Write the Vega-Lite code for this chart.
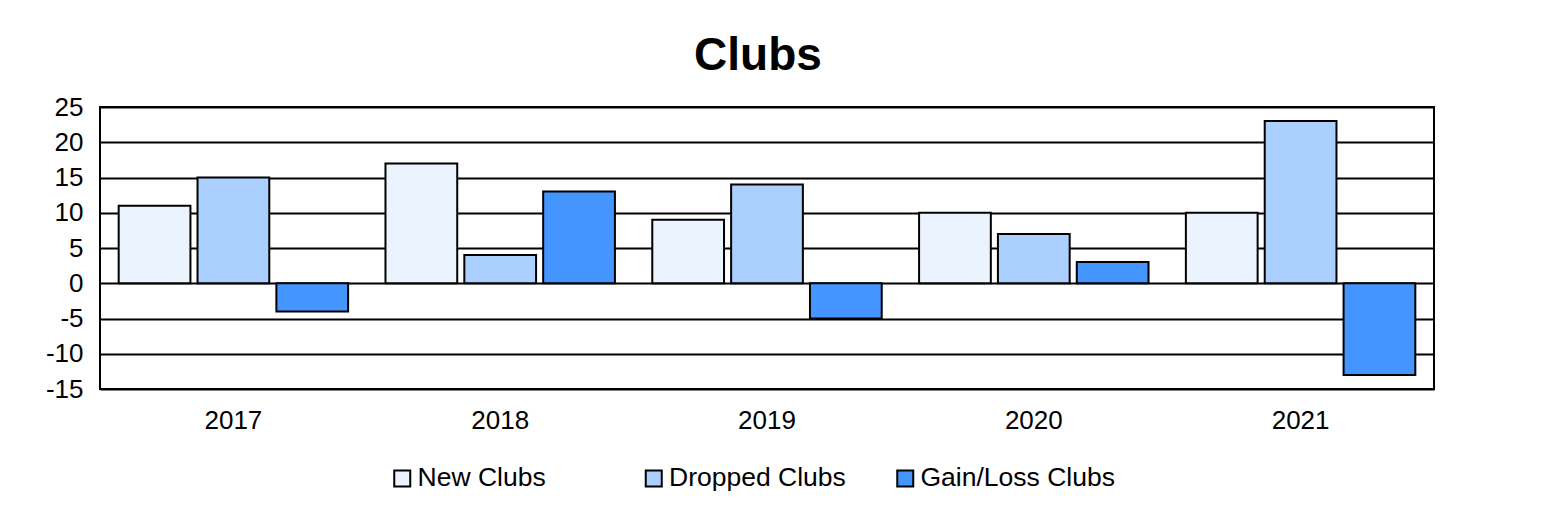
{
  "$schema": "https://vega.github.io/schema/vega-lite/v6.json",
  "autosize": "none",
  "width": 1334,
  "height": 282,
  "padding": {"left": 100, "top": 107, "right": 117, "bottom": 140},
  "background": "white",
  "title": {
    "text": "Clubs",
    "font": "Liberation Sans",
    "fontSize": 46,
    "fontWeight": "bold",
    "color": "black",
    "anchor": "middle",
    "baseline": "alphabetic",
    "offset": 37,
    "dx": -9,
    "dy": 59
  },
  "data": {
    "values": [
      {"year": "2017", "series": "New Clubs", "value": 11},
      {"year": "2017", "series": "Dropped Clubs", "value": 15},
      {"year": "2017", "series": "Gain/Loss Clubs", "value": -4},
      {"year": "2018", "series": "New Clubs", "value": 17},
      {"year": "2018", "series": "Dropped Clubs", "value": 4},
      {"year": "2018", "series": "Gain/Loss Clubs", "value": 13},
      {"year": "2019", "series": "New Clubs", "value": 9},
      {"year": "2019", "series": "Dropped Clubs", "value": 14},
      {"year": "2019", "series": "Gain/Loss Clubs", "value": -5},
      {"year": "2020", "series": "New Clubs", "value": 10},
      {"year": "2020", "series": "Dropped Clubs", "value": 7},
      {"year": "2020", "series": "Gain/Loss Clubs", "value": 3},
      {"year": "2021", "series": "New Clubs", "value": 10},
      {"year": "2021", "series": "Dropped Clubs", "value": 23},
      {"year": "2021", "series": "Gain/Loss Clubs", "value": -13}
    ]
  },
  "mark": {"type": "bar", "stroke": "black", "strokeWidth": 2},
  "encoding": {
    "x": {
      "field": "year",
      "type": "nominal",
      "scale": {"paddingInner": 0.14, "paddingOuter": 0.07},
      "axis": {
        "title": null,
        "labelAngle": 0,
        "labelFont": "Liberation Sans",
        "labelFontSize": 26,
        "labelColor": "black",
        "labelPadding": 18,
        "ticks": false,
        "domain": false,
        "grid": false
      }
    },
    "xOffset": {
      "field": "series",
      "type": "nominal",
      "sort": ["New Clubs", "Dropped Clubs", "Gain/Loss Clubs"],
      "scale": {"paddingInner": 0.09, "paddingOuter": 0}
    },
    "y": {
      "field": "value",
      "type": "quantitative",
      "scale": {"domain": [-15, 25], "nice": false, "zero": false},
      "axis": {
        "title": null,
        "values": [-15, -10, -5, 0, 5, 10, 15, 20, 25],
        "labelExpr": "'' + datum.value",
        "labelFont": "Liberation Sans",
        "labelFontSize": 26,
        "labelColor": "black",
        "labelPadding": 17,
        "ticks": false,
        "domain": false,
        "grid": true,
        "gridColor": "black",
        "gridWidth": 2,
        "gridOpacity": 1
      }
    },
    "color": {
      "field": "series",
      "type": "nominal",
      "sort": ["New Clubs", "Dropped Clubs", "Gain/Loss Clubs"],
      "scale": {
        "domain": ["New Clubs", "Dropped Clubs", "Gain/Loss Clubs"],
        "range": ["#EBF3FF", "#ABCFFF", "#4595FF"]
      },
      "legend": {
        "title": null,
        "orient": "none",
        "legendX": 289,
        "legendY": 358,
        "direction": "horizontal",
        "columns": 3,
        "gridAlign": "all",
        "columnPadding": 28.5,
        "padding": 0,
        "symbolType": "square",
        "symbolSize": 256,
        "symbolStrokeColor": "black",
        "symbolStrokeWidth": 2,
        "labelFont": "Liberation Sans",
        "labelFontSize": 26.5,
        "labelColor": "black",
        "labelOffset": 2,
        "labelLimit": 0
      }
    }
  },
  "config": {
    "view": {"stroke": "black", "strokeWidth": 2}
  }
}
